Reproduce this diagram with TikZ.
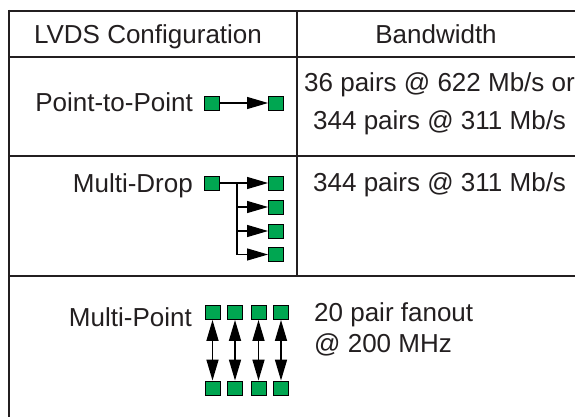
\documentclass[tikz,border=0pt]{standalone}
\usepackage{fontspec}
\setmainfont{Liberation Sans}
\usetikzlibrary{arrows.meta}
\definecolor{chipgreen}{HTML}{00A651}
\definecolor{inkgray}{HTML}{231F20}
\begin{document}
\begin{tikzpicture}[x=1pt,y=-1pt,
  chip/.style={draw=black,line width=0.9pt,fill=chipgreen,minimum width=15pt,minimum height=14pt,inner sep=0pt},
  lbl/.style={text=inkgray,font=\fontsize{26}{31}\selectfont,inner sep=0pt},
  link/.style={draw=black,line width=1.2pt,-{Triangle[length=21pt,width=12pt]}},
  both/.style={draw=black,line width=1.6pt,{Triangle[length=21pt,width=12pt]}-{Triangle[length=21pt,width=12pt]}},
  wire/.style={draw=black,line width=1.2pt},
  thickrule/.style={draw=inkgray,line width=2pt},
  thinrule/.style={draw=inkgray,line width=1.2pt}]
\useasboundingbox (0,0) rectangle (575,417);
\clip (0,0) rectangle (575,417);
\fill[white] (0,0) rectangle (575,417);

% table rules
\draw[thinrule,line width=1.6pt] (8,11) -- (575,11);
\draw[thickrule] (9,10) -- (9,417);
\draw[thickrule] (8,57) -- (575,57);
\draw[thinrule] (9,156) -- (575,156);
\draw[thickrule] (8,276) -- (575,276);
\draw[thinrule] (297,11) -- (297,276);

% header
\node[lbl,anchor=base] (hcfg) at (148,43.5) {LVDS Configuration};
\node[lbl,anchor=base] (hbw) at (436,43.5) {Bandwidth};

% point-to-point row
\node[lbl,anchor=base east] (p2p) at (193,112) {Point-to-Point};
\node[chip] (p2pA) at (211.5,103) {};
\node[chip] (p2pB) at (276,103) {};
\draw[link] (p2pA) -- (p2pB);
\node[lbl,anchor=base west] (bw1a) at (304,91.5) {36 pairs @ 622 Mb/s or};
\node[lbl,anchor=base west] (bw1b) at (313,129.5) {344 pairs @ 311 Mb/s};

% multi-drop row
\node[lbl,anchor=base east] (md) at (193,192.5) {Multi-Drop};
\node[chip] (mdA) at (211.5,183) {};
\node[chip] (mdB1) at (276,183) {};
\node[chip] (mdB2) at (276,207) {};
\node[chip] (mdB3) at (276,231) {};
\node[chip] (mdB4) at (276,254.5) {};
\coordinate (mdJ1) at (237,183);
\coordinate (mdJ2) at (237,207);
\coordinate (mdJ3) at (237,231);
\coordinate (mdJ4) at (237,254.5);
\draw[link] (mdA) -- (mdB1);
\draw[wire] (mdJ1) -- (mdJ4);
\draw[link] (mdJ2) -- (mdB2);
\draw[link] (mdJ3) -- (mdB3);
\draw[link] (mdJ4) -- (mdB4);
\node[lbl,anchor=base west] (bw2) at (313,191.5) {344 pairs @ 311 Mb/s};

% multi-point row
\node[lbl,anchor=base east] (mp) at (192,326) {Multi-Point};
\foreach \i/\x in {1/212.5,2/235,3/258.5,4/281}{
  \node[chip] (mpT\i) at (\x,312.5) {};
  \node[chip] (mpB\i) at (\x,388) {};
  \draw[both] (mpT\i) -- (mpB\i);
}
\node[lbl,anchor=base west] (bw3a) at (314,321.5) {20 pair fanout};
\node[lbl,anchor=base west] (bw3b) at (314,352.5) {@ 200 MHz};
\end{tikzpicture}
\end{document}
